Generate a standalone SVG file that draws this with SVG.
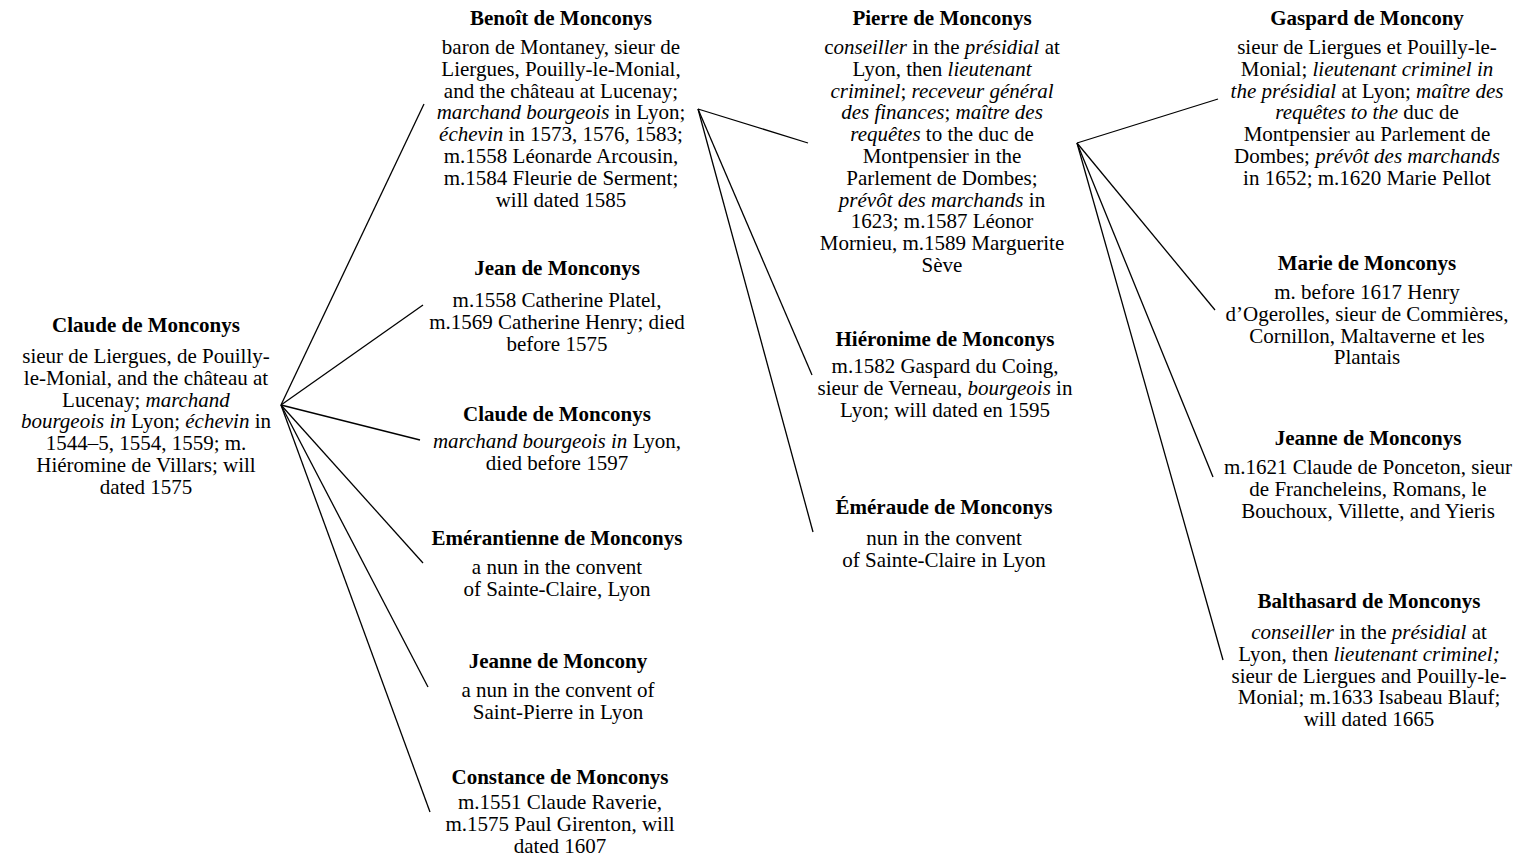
<svg xmlns="http://www.w3.org/2000/svg" width="1526" height="861" viewBox="0 0 1526 861">
<style>
text{font-family:"Liberation Serif","Times New Roman",serif;font-size:21px;fill:#000;text-anchor:middle}
.t{font-weight:bold}
.i{font-style:italic}
.c line{stroke:#000;stroke-width:1.3}
</style>
<rect width="1526" height="861" fill="#fff"/>
<g class="c" id="connectors">
<line x1="281" y1="405" x2="424" y2="104"/>
<line x1="281" y1="405" x2="423" y2="305"/>
<line x1="281" y1="405" x2="420" y2="440"/>
<line x1="281" y1="405" x2="423" y2="563"/>
<line x1="281" y1="405" x2="428" y2="687"/>
<line x1="281" y1="405" x2="430" y2="812"/>
<line x1="698" y1="109" x2="808" y2="143"/>
<line x1="698" y1="109" x2="812" y2="375"/>
<line x1="698" y1="109" x2="813" y2="532"/>
<line x1="1077" y1="143" x2="1218" y2="99"/>
<line x1="1077" y1="143" x2="1215" y2="310"/>
<line x1="1077" y1="143" x2="1213" y2="477"/>
<line x1="1077" y1="143" x2="1223" y2="660"/>
</g>
<g id="claude">
<text class="t" x="146" y="332">Claude de Monconys</text>
<text x="146" y="363">sieur de Liergues, de Pouilly-</text>
<text x="146" y="384.8">le-Monial, and the château at</text>
<text x="146" y="406.6">Lucenay; <tspan class="i">marchand</tspan></text>
<text x="146" y="428.4"><tspan class="i">bourgeois in</tspan> Lyon; <tspan class="i">échevin</tspan> in</text>
<text x="146" y="450.2">1544–5, 1554, 1559; m.</text>
<text x="146" y="472">Hiéromine de Villars; will</text>
<text x="146" y="493.8">dated 1575</text>
</g>
<g id="benoit">
<text class="t" x="561" y="25">Benoît de Monconys</text>
<text x="561" y="54">baron de Montaney, sieur de</text>
<text x="561" y="75.8">Liergues, Pouilly-le-Monial,</text>
<text x="561" y="97.6">and the château at Lucenay;</text>
<text x="561" y="119.4"><tspan class="i">marchand bourgeois</tspan> in Lyon;</text>
<text x="561" y="141.2"><tspan class="i">échevin</tspan> in 1573, 1576, 1583;</text>
<text x="561" y="163">m.1558 Léonarde Arcousin,</text>
<text x="561" y="184.8">m.1584 Fleurie de Serment;</text>
<text x="561" y="206.6">will dated 1585</text>
</g>
<g id="jean">
<text class="t" x="557" y="275">Jean de Monconys</text>
<text x="557" y="307">m.1558 Catherine Platel,</text>
<text x="557" y="328.8">m.1569 Catherine Henry; died</text>
<text x="557" y="350.6">before 1575</text>
</g>
<g id="claude2">
<text class="t" x="557" y="421">Claude de Monconys</text>
<text x="557" y="448"><tspan class="i">marchand bourgeois in</tspan> Lyon,</text>
<text x="557" y="469.8">died before 1597</text>
</g>
<g id="emerantienne">
<text class="t" x="557" y="545">Emérantienne de Monconys</text>
<text x="557" y="574">a nun in the convent</text>
<text x="557" y="595.8">of Sainte-Claire, Lyon</text>
</g>
<g id="jeanne1">
<text class="t" x="558" y="668">Jeanne de Moncony</text>
<text x="558" y="697">a nun in the convent of</text>
<text x="558" y="718.8">Saint-Pierre in Lyon</text>
</g>
<g id="constance">
<text class="t" x="560" y="784">Constance de Monconys</text>
<text x="560" y="809">m.1551 Claude Raverie,</text>
<text x="560" y="830.8">m.1575 Paul Girenton, will</text>
<text x="560" y="852.6">dated 1607</text>
</g>
<g id="pierre">
<text class="t" x="942" y="25">Pierre de Monconys</text>
<text x="942" y="54">c<tspan class="i">onseiller</tspan> in the <tspan class="i">présidial</tspan> at</text>
<text x="942" y="75.8">Lyon, then <tspan class="i">lieutenant</tspan></text>
<text x="942" y="97.6"><tspan class="i">criminel</tspan>; <tspan class="i">receveur général</tspan></text>
<text x="942" y="119.4"><tspan class="i">des finances</tspan>; <tspan class="i">maître des</tspan></text>
<text x="942" y="141.2"><tspan class="i">requêtes</tspan> to the duc de</text>
<text x="942" y="163">Montpensier in the</text>
<text x="942" y="184.8">Parlement de Dombes;</text>
<text x="942" y="206.6"><tspan class="i">prévôt des marchands</tspan> in</text>
<text x="942" y="228.4">1623; m.1587 Léonor</text>
<text x="942" y="250.2">Mornieu, m.1589 Marguerite</text>
<text x="942" y="272">Sève</text>
</g>
<g id="hieronime">
<text class="t" x="945" y="346">Hiéronime de Monconys</text>
<text x="945" y="373">m.1582 Gaspard du Coing,</text>
<text x="945" y="394.8">sieur de Verneau, <tspan class="i">bourgeois</tspan> in</text>
<text x="945" y="416.6">Lyon; will dated en 1595</text>
</g>
<g id="emeraude">
<text class="t" x="944" y="514">Éméraude de Monconys</text>
<text x="944" y="545">nun in the convent</text>
<text x="944" y="566.8">of Sainte-Claire in Lyon</text>
</g>
<g id="gaspard">
<text class="t" x="1367" y="25">Gaspard de Moncony</text>
<text x="1367" y="54">sieur de Liergues et Pouilly-le-</text>
<text x="1367" y="75.8">Monial; <tspan class="i">lieutenant criminel in</tspan></text>
<text x="1367" y="97.6"><tspan class="i">the présidial</tspan> at Lyon; <tspan class="i">maître des</tspan></text>
<text x="1367" y="119.4"><tspan class="i">requêtes to the</tspan> duc de</text>
<text x="1367" y="141.2">Montpensier au Parlement de</text>
<text x="1367" y="163">Dombes; <tspan class="i">prévôt des marchands</tspan></text>
<text x="1367" y="184.8">in 1652; m.1620 Marie Pellot</text>
</g>
<g id="marie">
<text class="t" x="1367" y="270">Marie de Monconys</text>
<text x="1367" y="299">m. before 1617 Henry</text>
<text x="1367" y="320.8">d’Ogerolles, sieur de Commières,</text>
<text x="1367" y="342.6">Cornillon, Maltaverne et les</text>
<text x="1367" y="364.4">Plantais</text>
</g>
<g id="jeanne2">
<text class="t" x="1368" y="445">Jeanne de Monconys</text>
<text x="1368" y="474">m.1621 Claude de Ponceton, sieur</text>
<text x="1368" y="495.8">de Francheleins, Romans, le</text>
<text x="1368" y="517.6">Bouchoux, Villette, and Yieris</text>
</g>
<g id="balthasard">
<text class="t" x="1369" y="608">Balthasard de Monconys</text>
<text x="1369" y="639"><tspan class="i">conseiller</tspan> in the <tspan class="i">présidial</tspan> at</text>
<text x="1369" y="660.8">Lyon, then <tspan class="i">lieutenant criminel;</tspan></text>
<text x="1369" y="682.6">sieur de Liergues and Pouilly-le-</text>
<text x="1369" y="704.4">Monial; m.1633 Isabeau Blauf;</text>
<text x="1369" y="726.2">will dated 1665</text>
</g>
</svg>
